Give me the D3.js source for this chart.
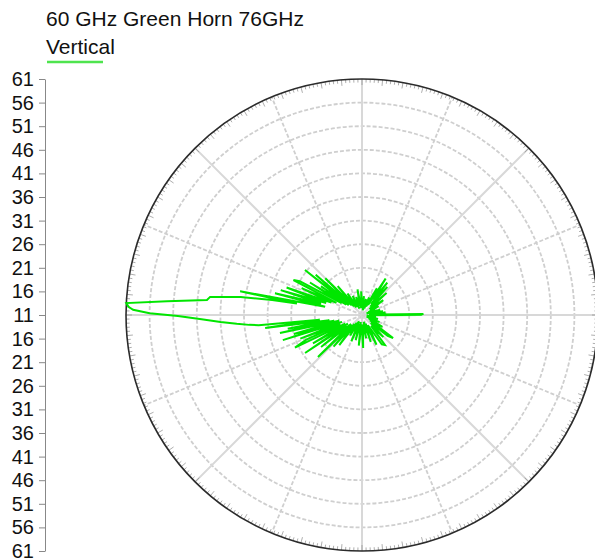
<!DOCTYPE html>
<html>
<head>
<meta charset="utf-8">
<script src="https://cdn.jsdelivr.net/npm/d3@7"></script>
<style>
  body { margin: 0; background: #fff; }
  text { font-family: "Liberation Sans", Arial, sans-serif; }
</style>
</head>
<body>
<svg id="chart" width="595" height="559"></svg>
<script>
const title = "60 GHz Green Horn 76GHz";
const seriesName = "Vertical";

// radial ring values (centre = 11, rim = 61)
const ringValues = [11, 16, 21, 26, 31, 36, 41, 46, 51, 56, 61];

// trace: angle in degrees (0 = right, counter-clockwise), value on radial scale
const angles = [0, 1, 2, 4, 6, 8, 10, 13, 16, 19, 22, 25, 28, 31,
    35, 38, 42, 45, 48, 50, 52, 54, 57, 59, 61, 64,
    68, 72, 76, 80, 84, 88, 92, 96, 100, 104, 108, 112, 116, 120, 124, 127,
    130, 132, 135, 137, 139, 140.5, 141.7, 143, 145, 146.5, 148, 150, 151.5, 153, 154.5, 156, 158,
    160, 161.5, 163, 164.5, 166, 167.5, 169, 170, 170.5,
    171.6, 173.2, 174.5, 176, 177.1, 178, 178.7, 179.5, 180.3, 181.5, 182.8, 184, 185, 185.6,
    186.5, 187.6, 189, 190.5, 191.5, 192.4, 194, 195.5, 196.5, 197.6, 199, 201, 202.5, 204, 206,
    207.5, 210, 211.5, 213.7, 215, 218, 219.5, 223.7, 225, 228, 230, 233, 236,
    240, 244, 248, 252, 256, 260, 264, 268, 272, 276, 280, 284, 288, 292, 296, 300,
    304, 307.5, 310, 314, 318, 321, 323.4, 326, 330, 334, 338, 342, 346, 350, 354, 357];
const values = [23.5, 24, 14, 13, 16, 12.5, 15.5, 12.5, 15, 12, 14, 12.5, 15, 13,
    16.5, 13, 18, 13.5, 19, 14, 19.7, 15, 20.2, 13.5, 17.5, 13,
    15, 12.5, 14.5, 12, 15, 12.5, 16, 12.5, 16.5, 13, 15, 12.5, 15.5, 13, 16.5, 13,
    19, 13.5, 22, 14, 24, 15, 26.4, 14.5, 21.6, 15, 24, 16, 26, 27.3, 17, 25, 18,
    28, 19, 29, 20, 30, 19, 37.3, 25, 30.3,
    37, 43.4, 44, 52.4, 61, 60.5, 59.5, 56, 50, 45, 41, 37.6, 35, 33,
    20, 31.7, 18, 27, 17, 28.8, 16, 26, 17, 28.6, 15.5, 25, 16, 24, 26.8,
    15, 23, 14.5, 25.5, 15, 22, 14, 23.9, 14, 20, 13.5, 19, 13,
    16, 12.5, 17, 13, 16.5, 12.5, 17.5, 13, 18, 13, 16, 12.5, 17, 13, 18, 13.5,
    18.5, 19, 14, 17.5, 13.5, 18, 19.2, 13, 16, 12.5, 15, 12, 14.5, 12, 14, 12.5];

const trace = angles.map((a, i) => ({ angle: a, value: values[i] }));

const cx = 362, cy = 315, R = 236;
const lineColor = "#00e600";

const svg = d3.select("#chart");

const r = d3.scaleLinear().domain([11, 61]).range([0, R]);

// title + legend
svg.append("text").attr("x", 46).attr("y", 26)
    .style("font-size", "21px").style("fill", "#111").text(title);
svg.append("text").attr("x", 46).attr("y", 54)
    .style("font-size", "21px").style("fill", "#111").text(seriesName);
svg.append("line").attr("x1", 47).attr("x2", 103).attr("y1", 62).attr("y2", 62)
    .style("stroke", "#4ee44e").style("stroke-width", 2.5);

const g = svg.append("g").attr("transform", `translate(${cx},${cy})`);

// rings
g.selectAll(".ring")
    .data(ringValues.slice(1, -1))
    .enter()
    .append("circle")
    .attr("r", d => r(d))
    .style("fill", "none")
    .style("stroke", "#cfcfcf")
    .style("stroke-width", 1.8)
    .style("stroke-dasharray", "4,2");

// spokes
const spokes = d3.range(0, 360, 22.5);
g.selectAll(".spoke")
    .data(spokes)
    .enter()
    .append("line")
    .attr("x1", 0).attr("y1", 0)
    .attr("x2", d => R * Math.cos(d * Math.PI / 180))
    .attr("y2", d => -R * Math.sin(d * Math.PI / 180))
    .style("stroke", d => d % 45 === 0 ? "#d8d8d8" : "#cfcfcf")
    .style("stroke-width", d => d % 45 === 0 ? 2 : 1.8)
    .style("stroke-dasharray", d => d % 45 === 0 ? null : "4,2");

// degree ticks on the rim
g.selectAll(".degTick")
    .data(d3.range(0, 360, 1))
    .enter()
    .append("line")
    .attr("x1", d => R * Math.cos(d * Math.PI / 180))
    .attr("y1", d => -R * Math.sin(d * Math.PI / 180))
    .attr("x2", d => (R - (d % 5 === 0 ? 6 : 3.5)) * Math.cos(d * Math.PI / 180))
    .attr("y2", d => -(R - (d % 5 === 0 ? 6 : 3.5)) * Math.sin(d * Math.PI / 180))
    .style("stroke", "#999")
    .style("stroke-width", 0.8);

// outer circle
g.append("circle")
    .attr("r", r(61))
    .style("fill", "none")
    .style("stroke", "#2b2b2b")
    .style("stroke-width", 1.6);

// trace
const line = d3.lineRadial()
    .angle(d => (90 - d.angle) * Math.PI / 180)
    .radius(d => r(d.value))
    .curve(d3.curveLinearClosed);

g.append("path")
    .datum(trace)
    .attr("d", line)
    .style("fill", "none")
    .style("stroke", lineColor)
    .style("stroke-width", 2)
    .style("stroke-linejoin", "miter");

// left axis, mirrored about the centre
const y = d3.scaleLinear().domain([50, -50]).range([cy - R, cy + R]);
const offsets = ringValues.map(v => v - 11).concat(ringValues.slice(1).map(v => -(v - 11)));

const axis = d3.axisLeft(y)
    .tickValues(offsets)
    .tickFormat(d => 11 + Math.abs(d))
    .tickSize(6)
    .tickSizeOuter(0)
    .tickPadding(5);

const ax = svg.append("g").attr("transform", "translate(45,0)").call(axis);
ax.select(".domain").style("stroke", "#888");
ax.selectAll(".tick line").style("stroke", "#888");
ax.selectAll(".tick text")
    .style("font-size", "20px")
    .style("font-family", "'Liberation Sans', Arial, sans-serif")
    .style("fill", "#111");
</script>
</body>
</html>
